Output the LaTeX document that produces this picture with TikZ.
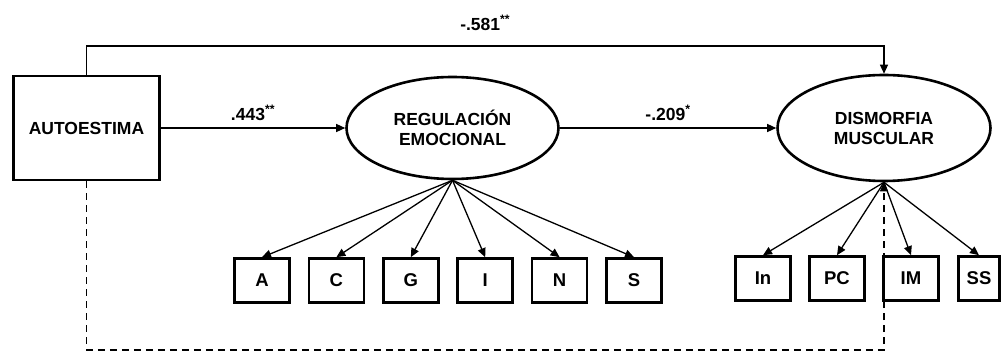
\documentclass[tikz,border=0pt]{standalone}
\usepackage{fontspec}
\setmainfont{Liberation Sans}
\usetikzlibrary{arrows.meta,shapes.geometric}

\begin{document}
\begin{tikzpicture}[x=1pt,y=-1pt,>={Triangle[length=9pt,width=8pt]},
  font=\fontsize{17.5}{20}\selectfont\bfseries,
  latent/.style={ellipse,draw,line width=2.6pt,align=center,inner sep=0pt},
  observed/.style={rectangle,draw,line width=2.6pt,minimum width=55pt,minimum height=44pt,inner sep=0pt,font=\fontsize{18.5}{20}\selectfont\bfseries},
  link/.style={->,line width=1.3pt},
  coef/.style={above=7pt,inner sep=0pt}]
\useasboundingbox (0,0) rectangle (1004,352);
% latent and observed variables
\node[rectangle,draw,line width=2.6pt,minimum width=146pt,minimum height=104pt] (auto) at (86.5,128) {AUTOESTIMA};
\node[latent,minimum width=212pt,minimum height=102pt] (re) at (452.5,128) {REGULACIÓN\\EMOCIONAL};
\node[latent,minimum width=213pt,minimum height=106pt] (dm) at (884,128) {DISMORFIA\\MUSCULAR};
\foreach \lab [count=\i] in {A,C,G,I,N,S}
  \node[observed] (r\i) at ({262+74.4*(\i-1)},280.5) {\lab};
\foreach \lab [count=\i] in {In,PC,IM}
  \node[observed] (d\i) at ({763+74*(\i-1)},278.5) {\lab};
\node[observed,minimum width=41pt] (d4) at (979,278.5) {SS};
\coordinate (top) at (0,46);
\coordinate (bottom) at (0,350);
% structural paths
\draw[link] (auto) -- node[coef]{.443\textsuperscript{**}} (re);
\draw[link] (re) -- node[coef]{-.209\textsuperscript{*}} (dm);
\draw[link] (auto.north) |- node[coef,pos=0.75,above=8pt]{-.581\textsuperscript{**}} (dm.north |- top) -- (dm.north);
\draw[link,dash pattern=on 7pt off 5pt] (auto.south) |- (dm.south |- bottom) -- (dm.south);
% measurement paths
\foreach \i in {1,...,6}
  \draw[link] (re.south) -- (r\i.north);
\foreach \i in {1,...,4}
  \draw[link] (dm.south) -- (d\i.north);
\end{tikzpicture}
\end{document}
